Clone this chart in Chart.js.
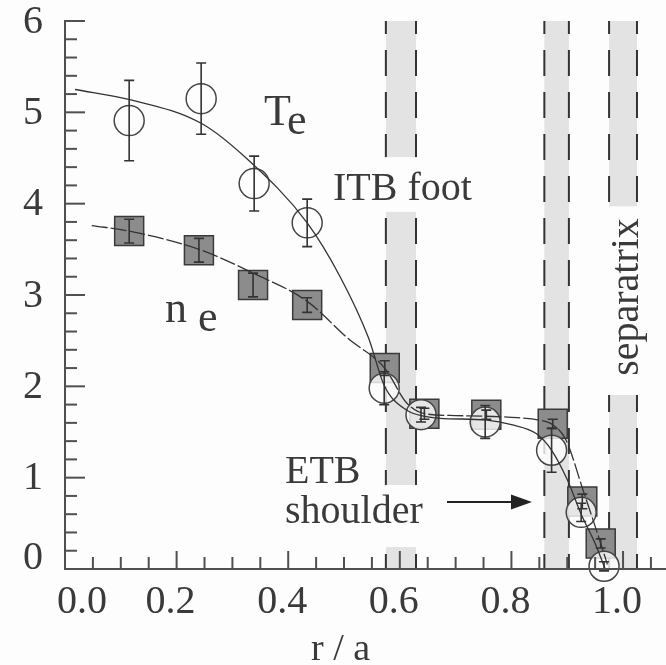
<!DOCTYPE html>
<html>
<head>
<meta charset="utf-8">
<script src="https://cdn.jsdelivr.net/npm/chart.js@4.4.1/dist/chart.umd.min.js"></script>
<style>
  html, body { margin: 0; padding: 0; background: #fdfdfd; }
  #wrap { width: 666px; height: 665px; }
</style>
</head>
<body>
<div id="wrap"><canvas id="c" width="666" height="665"></canvas></div>
<script>
// ---- data ----
const teX   = [0.115, 0.244, 0.339, 0.434, 0.572, 0.638, 0.753, 0.872, 0.925, 0.966];
const teY   = [4.91, 5.15, 4.22, 3.79, 1.98, 1.69, 1.61, 1.30, 0.62, 0.03];
const teErr = [0.44, 0.39, 0.30, 0.26, 0.18, 0.08, 0.18, 0.24, 0.10, 0.05];

const neX   = [0.115, 0.240, 0.337, 0.434, 0.573, 0.644, 0.755, 0.874, 0.927, 0.960];
const neY   = [3.70, 3.49, 3.11, 2.89, 2.20, 1.70, 1.69, 1.59, 0.74, 0.28];
const neErr = [0.13, 0.13, 0.13, 0.08, 0.08, 0.06, 0.05, 0.05, 0.08, 0.05];

const teFitX = [0.018, 0.116, 0.244, 0.328, 0.434, 0.493, 0.544, 0.572, 0.612, 0.645, 0.672, 0.756, 0.800, 0.845, 0.872, 0.900, 0.925, 0.950, 0.968];
const teFitY = [5.25, 5.14, 4.88, 4.48, 3.79, 3.20, 2.53, 2.01, 1.74, 1.67, 1.65, 1.63, 1.58, 1.48, 1.30, 0.98, 0.60, 0.28, 0.00];

const neFitX = [0.048, 0.115, 0.240, 0.337, 0.434, 0.508, 0.573, 0.612, 0.645, 0.700, 0.800, 0.850, 0.874, 0.898, 0.928, 0.960, 0.972];
const neFitY = [3.76, 3.70, 3.50, 3.24, 2.93, 2.52, 2.20, 1.82, 1.70, 1.68, 1.66, 1.63, 1.58, 1.41, 0.87, 0.28, 0.05];

const xTickValues = [0.0, 0.2, 0.4, 0.6, 0.8, 1.0];
const xTickLabels = ['0.0', '0.2', '0.4', '0.6', '0.8', '1.0'];
const yTickValues = [0, 1, 2, 3, 4, 5, 6];
const yTickLabels = ['0', '1', '2', '3', '4', '5', '6'];

const bandLeft  = [0.575, 0.859, 0.975];
const bandRight = [0.629, 0.903, 1.025];
const gapBand = [0, 0, 2];
const gapLow  = [3.91, 0.24, 1.905];
const gapHigh = [4.51, 0.92, 3.97];

const xTitle = 'r / a';

// ---- drawing ----
const INK = '#3a3a3a';
const FONT = '"Liberation Serif", "Times New Roman", serif';

const pts = (xs, ys) => xs.map((x, i) => ({ x: x, y: ys[i] }));

const bandsPlugin = {
  id: 'bands',
  beforeDatasetsDraw(chart) {
    const ctx = chart.ctx, xs = chart.scales.x, ys = chart.scales.y;
    const top = ys.getPixelForValue(6), bot = ys.getPixelForValue(0);
    ctx.save();
    for (let i = 0; i < bandLeft.length; i++) {
      const l = xs.getPixelForValue(bandLeft[i]), r = xs.getPixelForValue(bandRight[i]);
      ctx.fillStyle = '#e3e3e3';
      ctx.fillRect(l, top, r - l, bot - top);
      ctx.strokeStyle = '#333';
      ctx.lineWidth = 2;
      ctx.setLineDash([26, 16]);
      ctx.lineDashOffset = 13;
      [l, r].forEach(px => {
        ctx.beginPath();
        ctx.moveTo(px, top);
        ctx.lineTo(px, bot);
        ctx.stroke();
      });
    }
    ctx.setLineDash([]);
    ctx.fillStyle = '#fdfdfd';
    for (let g = 0; g < gapBand.length; g++) {
      const b = gapBand[g];
      const l = xs.getPixelForValue(bandLeft[b]) - 3, r = xs.getPixelForValue(bandRight[b]) + 3;
      const y1 = ys.getPixelForValue(gapHigh[g]), y2 = ys.getPixelForValue(gapLow[g]);
      ctx.fillRect(l, y1, r - l, y2 - y1);
    }
    ctx.restore();
  }
};

const errPlugin = {
  id: 'errbars',
  afterDatasetsDraw(chart) {
    const ctx = chart.ctx, xs = chart.scales.x, ys = chart.scales.y;
    ctx.save();
    ctx.strokeStyle = '#333';
    ctx.lineWidth = 1.6;
    const draw = (X, Y, E) => {
      for (let i = 0; i < X.length; i++) {
        const px = xs.getPixelForValue(X[i]);
        const a = ys.getPixelForValue(Y[i] + E[i]);
        const b = ys.getPixelForValue(Y[i] - E[i]);
        ctx.beginPath();
        ctx.moveTo(px, a); ctx.lineTo(px, b);
        ctx.moveTo(px - 5, a); ctx.lineTo(px + 5, a);
        ctx.moveTo(px - 5, b); ctx.lineTo(px + 5, b);
        ctx.stroke();
      }
    };
    draw(neX, neY, neErr);
    draw(teX, teY, teErr);
    ctx.restore();
  }
};

const axesPlugin = {
  id: 'axesDraw',
  afterDraw(chart) {
    const ctx = chart.ctx, xs = chart.scales.x, ys = chart.scales.y;
    const x0 = xs.getPixelForValue(0), y0 = ys.getPixelForValue(0);
    ctx.save();
    ctx.strokeStyle = '#505050';
    ctx.lineWidth = 2;
    ctx.beginPath();
    ctx.moveTo(x0, y0 + 1); ctx.lineTo(x0, ys.getPixelForValue(6) - 1);
    ctx.moveTo(x0 - 1, y0); ctx.lineTo(chart.width, y0);
    ctx.stroke();
    // y ticks (inward)
    for (let k = 1; k <= 30; k++) {
      const v = k * 0.2;
      const py = ys.getPixelForValue(v);
      const major = (k % 5 === 0);
      ctx.beginPath();
      ctx.moveTo(x0, py); ctx.lineTo(x0 + (major ? 20 : 12), py);
      ctx.stroke();
    }
    // x ticks (inward)
    for (let k = 1; k <= 21; k++) {
      const v = k * 0.05;
      const px = xs.getPixelForValue(v);
      const major = (k % 4 === 0);
      ctx.beginPath();
      ctx.moveTo(px, y0); ctx.lineTo(px, y0 - (major ? 18 : 12));
      ctx.stroke();
    }
    // tick labels
    ctx.fillStyle = INK;
    ctx.font = '40px ' + FONT;
    ctx.textBaseline = 'middle';
    ctx.textAlign = 'right';
    yTickValues.forEach((v, i) => {
      let py = ys.getPixelForValue(v);
      if (i === 0) py -= 12;
      ctx.fillText(yTickLabels[i], 43, py + 1);
    });
    ctx.textBaseline = 'alphabetic';
    xTickValues.forEach((v, i) => {
      const px = xs.getPixelForValue(v);
      if (i === 0) { ctx.textAlign = 'left'; ctx.fillText(xTickLabels[i], px - 8, 613); }
      else { ctx.textAlign = 'center'; ctx.fillText(xTickLabels[i], px - 6, 613); }
    });
    ctx.textAlign = 'left';
    ctx.font = '38px ' + FONT;
    ctx.fillText(xTitle, 311, 660);

    // annotations
    ctx.font = '44px ' + FONT;
    ctx.fillText('T', 264, 125);
    ctx.fillText('e', 287, 134);
    ctx.fillText('n', 165, 322);
    ctx.fillText('e', 198, 331);
    ctx.font = '40px ' + FONT;
    ctx.fillText('ITB foot', 333, 200);
    ctx.fillText('ETB', 285, 483);
    ctx.fillText('shoulder', 285, 523);
    // arrow
    ctx.strokeStyle = '#222';
    ctx.lineWidth = 2;
    ctx.beginPath();
    ctx.moveTo(447, 502); ctx.lineTo(515, 502);
    ctx.stroke();
    ctx.fillStyle = '#222';
    ctx.beginPath();
    ctx.moveTo(532, 502); ctx.lineTo(511, 494.5); ctx.lineTo(511, 509.5);
    ctx.closePath(); ctx.fill();
    // separatrix, vertical
    ctx.fillStyle = INK;
    ctx.save();
    ctx.translate(638, 297);
    ctx.rotate(-Math.PI / 2);
    ctx.textAlign = 'center';
    ctx.fillText('separatrix', 0, 0);
    ctx.restore();
    ctx.restore();
  }
};

new Chart(document.getElementById('c'), {
  type: 'scatter',
  data: {
    datasets: [
      {
        type: 'line', label: 'Te fit', data: pts(teFitX, teFitY),
        borderColor: '#333', borderWidth: 1.3, pointRadius: 0, fill: false,
        cubicInterpolationMode: 'monotone', clip: false, order: 1
      },
      {
        type: 'line', label: 'ne fit', data: pts(neFitX, neFitY),
        borderColor: '#333', borderWidth: 1.3, pointRadius: 0, fill: false,
        borderDash: [16, 3], cubicInterpolationMode: 'monotone', clip: false, order: 2
      },
      {
        label: 'Te', data: pts(teX, teY), pointStyle: 'circle', pointRadius: 15,
        pointBackgroundColor: 'rgba(253,253,253,0.8)', pointBorderColor: '#444',
        pointBorderWidth: 1.5, clip: false, order: 3
      },
      {
        label: 'ne', data: pts(neX, neY), pointStyle: 'rect', pointRadius: 20.5,
        pointBackgroundColor: '#8c8c8c', pointBorderColor: '#3a3a3a',
        pointBorderWidth: 1.5, clip: false, order: 4
      }
    ]
  },
  options: {
    responsive: false,
    animation: false,
    devicePixelRatio: 1,
    layout: { autoPadding: false, padding: { left: 65, right: 0, top: 21, bottom: 96 } },
    plugins: { legend: { display: false }, tooltip: { enabled: false } },
    scales: {
      x: { type: 'linear', min: 0, max: 1.077, display: false },
      y: { type: 'linear', min: 0, max: 6, display: false }
    }
  },
  plugins: [bandsPlugin, errPlugin, axesPlugin]
});
</script>
</body>
</html>
